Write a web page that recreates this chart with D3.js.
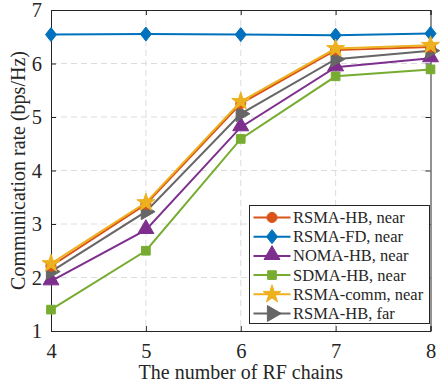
<!DOCTYPE html>
<meta charset="utf-8">
<script src="https://cdn.jsdelivr.net/npm/d3@7"></script>
<style>
body { margin: 0; background: #fff; }
text { font-family: "Liberation Serif", "Times New Roman", serif; fill: #262626; }
</style>
<body>
<script>
var chains = [4, 5, 6, 7, 8]
var yTicks = [1, 2, 3, 4, 5, 6, 7]

var rsmaHbNear = [2.21, 3.37, 5.25, 6.25, 6.31]
var rsmaFdNear = [6.54, 6.55, 6.54, 6.53, 6.56]
var nomaHbNear = [1.93, 2.89, 4.81, 5.93, 6.10]
var sdmaHbNear = [1.40, 2.50, 4.59, 5.76, 5.89]
var rsmaCommNear = [2.26, 3.40, 5.29, 6.28, 6.34]
var rsmaHbFar = [2.11, 3.23, 5.06, 6.08, 6.24]

var series = [
  {name: "RSMA-HB, near", vals: rsmaHbNear, color: "#D95319", sym: "circle"},
  {name: "RSMA-FD, near", vals: rsmaFdNear, color: "#0072BD", sym: "diamond"},
  {name: "NOMA-HB, near", vals: nomaHbNear, color: "#7E2F8E", sym: "triangle"},
  {name: "SDMA-HB, near", vals: sdmaHbNear, color: "#77AC30", sym: "square"},
  {name: "RSMA-comm, near", vals: rsmaCommNear, color: "#EDB120", sym: "star"},
  {name: "RSMA-HB, far", vals: rsmaHbFar, color: "#666666", sym: "right"}
]
// draw order: mimic matlab stacking (later on top)
var drawOrder = [1, 3, 2, 5, 0, 4]

var W = 440, H = 383
var m = {left: 51, right: 9.5, top: 10, bottom: 52}
var w = W - m.left - m.right, h = H - m.top - m.bottom

var svg = d3.select("body").append("svg").attr("width", W).attr("height", H)
var g = svg.append("g").attr("transform", "translate(" + m.left + "," + m.top + ")")

var x = d3.scaleLinear().domain([4, 8]).range([0, w])
var y = d3.scaleLinear().domain([1, 7]).range([h, 0])

// grid
g.append("g").selectAll("line").data(chains.slice(1, -1)).enter().append("line")
  .attr("x1", d => x(d)).attr("x2", d => x(d)).attr("y1", 0).attr("y2", h)
  .attr("stroke", "#dcdcdc").attr("stroke-dasharray", "6,4").attr("stroke-width", 1)
g.append("g").selectAll("line").data(yTicks.slice(1, -1)).enter().append("line")
  .attr("y1", d => y(d)).attr("y2", d => y(d)).attr("x1", 0).attr("x2", w)
  .attr("stroke", "#dcdcdc").attr("stroke-dasharray", "6,4").attr("stroke-width", 1)

// axes
var xAxis = g.append("g").attr("transform", "translate(0," + h + ")")
  .call(d3.axisBottom(x).tickValues(chains).tickSize(-5).tickPadding(12).tickFormat(d3.format("d")))
var yAxis = g.append("g")
  .call(d3.axisLeft(y).tickValues(yTicks).tickSize(-5).tickPadding(9).tickFormat(d3.format("d")))
g.append("g").attr("transform", "translate(" + w + ",0)")
  .call(d3.axisRight(y).tickValues(yTicks).tickSize(-5).tickFormat(""))
g.append("g")
  .call(d3.axisTop(x).tickValues(chains).tickSize(-5).tickFormat(""))
g.selectAll(".domain").attr("stroke", "#262626").attr("stroke-width", 1)
g.selectAll(".tick line").attr("stroke", "#262626")
g.selectAll(".tick text").attr("font-size", 20.5).attr("font-family", "Liberation Serif").attr("fill", "#262626")

// symbols
function marker(sel, sym, color) {
  var p
  if (sym == "circle") p = d3.symbol().type(d3.symbolCircle).size(80)
  else if (sym == "square") p = d3.symbol().type(d3.symbolSquare).size(75)
  else if (sym == "diamond") p = null
  else if (sym == "triangle") p = d3.symbol().type(d3.symbolTriangle).size(110)
  else if (sym == "star") p = d3.symbol().type(d3.symbolStar).size(100)
  else if (sym == "right") p = d3.symbol().type(d3.symbolTriangle).size(110)
  if (sym == "diamond") {
    sel.append("path").attr("d", "M0,-7L5.5,0L0,7L-5.5,0Z").attr("fill", color).attr("stroke", color)
  } else {
    var e = sel.append("path").attr("d", p()).attr("fill", color).attr("stroke", color)
    if (sym == "right") e.attr("transform", "rotate(90)")
    if (sym == "triangle") e.attr("transform", "translate(0,-1)")
  }
}

var line = d3.line().x((d, i) => x(chains[i])).y(d => y(d))

drawOrder.forEach(function(k) {
  var s = series[k]
  g.append("path").datum(s.vals).attr("d", line).attr("fill", "none")
    .attr("stroke", s.color).attr("stroke-width", 2)
  s.vals.forEach(function(v, i) {
    var mg = g.append("g").attr("transform", "translate(" + x(chains[i]) + "," + y(v) + ")")
    marker(mg, s.sym, s.color)
  })
})

// labels
svg.append("text").attr("x", m.left + w / 2).attr("y", 379).attr("text-anchor", "middle")
  .attr("font-size", 20).text("The number of RF chains")
svg.append("text").attr("transform", "translate(25," + (m.top + h / 2) + ") rotate(-90)")
  .attr("text-anchor", "middle").attr("font-size", 20).text("Communication rate (bps/Hz)")

// legend
var lg = svg.append("g").attr("transform", "translate(249.5,205.5)")
lg.append("rect").attr("width", 180).attr("height", 118).attr("fill", "#fff").attr("stroke", "#262626")
series.forEach(function(s, i) {
  var row = lg.append("g").attr("transform", "translate(0," + (12 + i * 19.2) + ")")
  row.append("line").attr("x1", 4).attr("x2", 41).attr("stroke", s.color).attr("stroke-width", 2)
  var mg = row.append("g").attr("transform", "translate(22.5,0)")
  marker(mg, s.sym, s.color)
  row.append("text").attr("x", 43.5).attr("y", 5.5).attr("font-size", 16.5).text(s.name)
})
</script>
</body>
